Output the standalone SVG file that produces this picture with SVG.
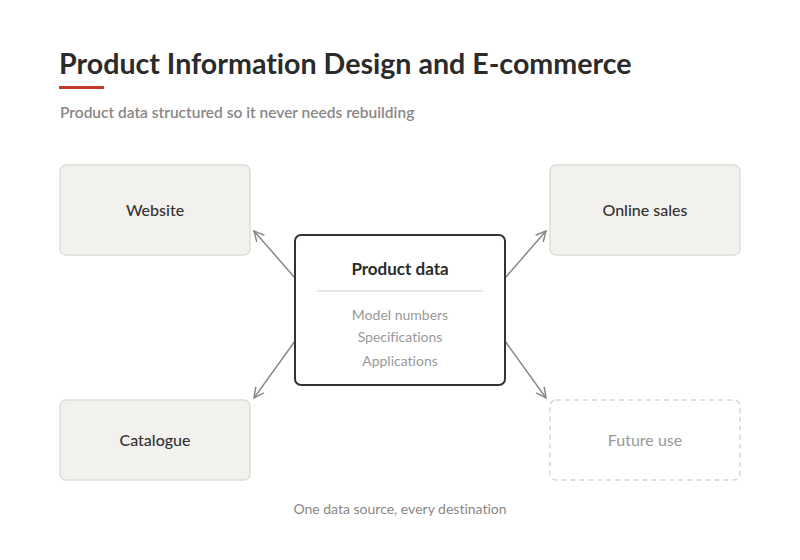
<svg xmlns="http://www.w3.org/2000/svg" width="800" height="560" viewBox="0 0 800 560">
<defs>
<style>
.t{font-family:Lato,"Open Sans","Liberation Sans",sans-serif;font-variant-ligatures:none;font-feature-settings:"liga" 0}
.title{font-size:28.6px;font-weight:700;fill:#2b2b2b}
.sub{font-size:15.5px;font-weight:600;fill:#8a8685}
.box{fill:#f3f1ee;stroke:#e0ddd8;stroke-width:1.5}
.fut{fill:#fff;stroke:#d8d6d3;stroke-width:1.5;stroke-dasharray:5 4}
.lbl{font-size:16px;font-weight:500;fill:#333;text-anchor:middle}
.flbl{font-size:16px;fill:#999;text-anchor:middle}
.item{font-size:14px;fill:#999;text-anchor:middle}
.conn{stroke:#888;stroke-width:1.5;fill:none;marker-end:url(#ah)}
</style>
<marker id="ah" viewBox="0 0 12 12" refX="11" refY="6" markerWidth="12" markerHeight="12" markerUnits="userSpaceOnUse" orient="auto">
<path d="M1,1 L11,6 L1,11" fill="none" stroke="#888" stroke-width="1.5"/>
</marker>
</defs>
<rect width="800" height="560" fill="#fff"/>
<g id="header">
<text class="t title" x="59" y="74">Product Information Design and E-commerce</text>
<rect x="59" y="86" width="45" height="3" fill="#c0392b"/>
<text class="t sub" x="60" y="118">Product data structured so it never needs rebuilding</text>
</g>
<g id="connectors">
<line class="conn" x1="295" y1="278" x2="254" y2="231"/>
<line class="conn" x1="505" y1="278" x2="546" y2="231"/>
<line class="conn" x1="295" y1="341" x2="254" y2="398"/>
<line class="conn" x1="505" y1="341" x2="546" y2="398"/>
</g>
<g id="website">
<rect class="box" x="60" y="165" width="190" height="90" rx="6"/>
<text class="t lbl" x="155" y="216">Website</text>
</g>
<g id="online-sales">
<rect class="box" x="550" y="165" width="190" height="90" rx="6"/>
<text class="t lbl" x="645" y="216">Online sales</text>
</g>
<g id="catalogue">
<rect class="box" x="60" y="400" width="190" height="80" rx="6"/>
<text class="t lbl" x="155" y="446">Catalogue</text>
</g>
<g id="future-use">
<rect class="fut" x="550" y="400" width="190" height="80" rx="6"/>
<text class="t flbl" x="645" y="446">Future use</text>
</g>
<g id="product-data">
<rect x="295" y="235" width="210" height="150" rx="6" fill="#fff" stroke="#333" stroke-width="2"/>
<text class="t" x="400" y="275" text-anchor="middle" font-size="17" font-weight="700" fill="#2b2b2b">Product data</text>
<line x1="317" y1="291" x2="483" y2="291" stroke="#e0ddd8" stroke-width="1.5"/>
<text class="t item" x="400" y="320">Model numbers</text>
<text class="t item" x="400" y="342">Specifications</text>
<text class="t item" x="400" y="366">Applications</text>
</g>
<g id="footer">
<text class="t" x="400" y="514" text-anchor="middle" font-size="14" fill="#8a8685">One data source, every destination</text>
</g>
</svg>
